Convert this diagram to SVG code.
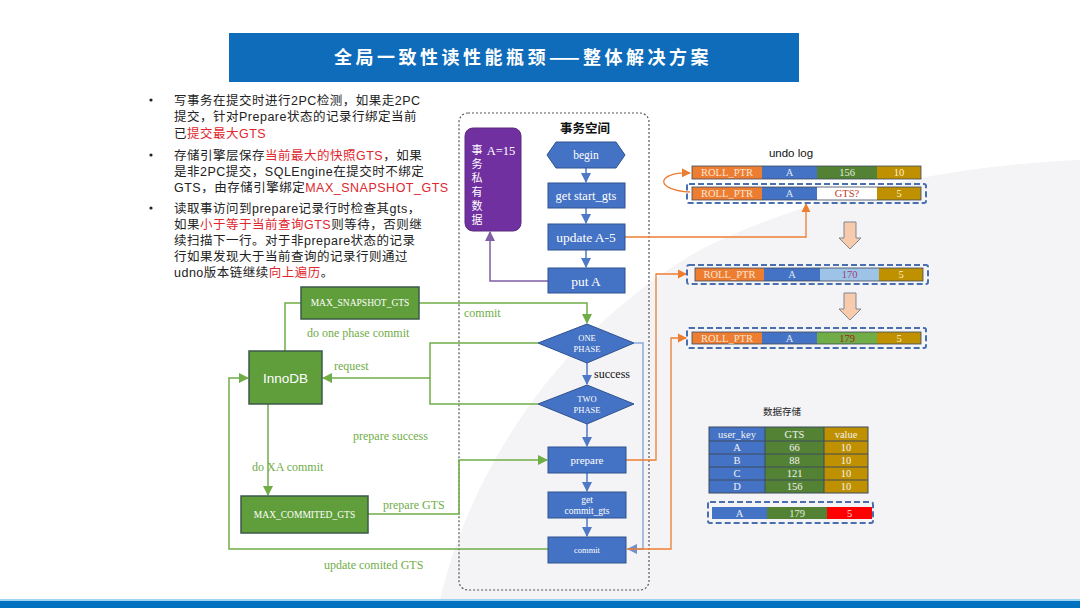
<svg xmlns="http://www.w3.org/2000/svg" width="1080" height="608" viewBox="0 0 1080 608">
<defs>
<style>
.cn{font-family:"Noto Sans CJK SC","Noto Sans",sans-serif}
.bl{font-family:"Liberation Sans","Noto Sans CJK SC",sans-serif;font-size:12.5px;fill:#222;letter-spacing:0.5px}
.red{fill:#e0262e}
.sf{font-family:"Liberation Serif","Noto Sans CJK SC",serif}
.wt{fill:#fff}
.box{fill:#4472c4;stroke:#2f528f;stroke-width:1}
.gbox{fill:#5f9e3b;stroke:#3d5a4a;stroke-width:1.5}
.lb{stroke:#4f79c6;stroke-width:1.5;fill:none}
.lg{stroke:#70ad47;stroke-width:1.5;fill:none}
.lo{stroke:#ed7d31;stroke-width:1.3;fill:none}
.gl{font-family:"Liberation Serif",serif;font-size:12px;fill:#70ad47}
.cell{font-family:"Liberation Serif",serif;font-size:10.5px;text-anchor:middle}
.dash{fill:none;stroke:#4a6fb0;stroke-width:2;stroke-dasharray:6 3}
.tb{stroke:#3c4a5c;stroke-width:1}
</style>
<marker id="ab" viewBox="0 0 10 10" refX="9" refY="5" markerWidth="7" markerHeight="7" orient="auto-start-reverse"><path d="M0,0 L10,5 L0,10 z" fill="#4f79c6"/></marker>
<marker id="ag" viewBox="0 0 10 10" refX="9" refY="5" markerWidth="7" markerHeight="7" orient="auto-start-reverse"><path d="M0,0 L10,5 L0,10 z" fill="#70ad47"/></marker>
<marker id="ao" viewBox="0 0 10 10" refX="9" refY="5" markerWidth="7" markerHeight="7" orient="auto-start-reverse"><path d="M0,0 L10,5 L0,10 z" fill="#ed7d31"/></marker>
<marker id="ap" viewBox="0 0 10 10" refX="9" refY="5" markerWidth="7" markerHeight="7" orient="auto-start-reverse"><path d="M0,0 L10,5 L0,10 z" fill="#7f5fa6"/></marker>
<marker id="al" viewBox="0 0 10 10" refX="9" refY="5" markerWidth="7" markerHeight="7" orient="auto-start-reverse"><path d="M0,0 L10,5 L0,10 z" fill="#6f8fcf"/></marker>
</defs>

<!-- background -->
<rect x="0" y="0" width="1080" height="608" fill="#ffffff"/>
<path d="M440,600 C470,470 560,330 700,250 C820,190 960,165 1080,160 L1080,600 Z" fill="#f4f4f6"/>

<!-- title -->
<g id="title">
<rect x="229" y="33" width="570" height="49" fill="#0f6cba"/>
<text x="523" y="64" class="cn" font-size="18" font-weight="bold" fill="#fff" text-anchor="middle" letter-spacing="3.5">全局一致性读性能瓶颈——整体解决方案</text>
</g>

<!-- bottom stripe -->
<rect x="0" y="599" width="1080" height="2" fill="#9dd3f0"/>
<rect x="0" y="601" width="1080" height="7" fill="#0070c0"/>

<!-- bullets -->
<g id="bullets" class="bl">
<circle cx="151" cy="100" r="1.6" fill="#222"/>
<circle cx="151" cy="155" r="1.6" fill="#222"/>
<circle cx="151" cy="208" r="1.6" fill="#222"/>
<text x="174" y="105">写事务在提交时进行2PC检测，如果走2PC</text>
<text x="174" y="121">提交，针对Prepare状态的记录行绑定当前</text>
<text x="174" y="138">已<tspan class="red">提交最大GTS</tspan></text>
<text x="174" y="160">存储引擎层保存<tspan class="red">当前最大的快照GTS</tspan>，如果</text>
<text x="174" y="176">是非2PC提交，SQLEngine在提交时不绑定</text>
<text x="174" y="192">GTS，由存储引擎绑定<tspan class="red">MAX_SNAPSHOT_GTS</tspan></text>
<text x="174" y="213">读取事访问到prepare记录行时检查其gts，</text>
<text x="174" y="229">如果<tspan class="red">小于等于当前查询GTS</tspan>则等待，否则继</text>
<text x="174" y="245">续扫描下一行。对于非prepare状态的记录</text>
<text x="174" y="261">行如果发现大于当前查询的记录行则通过</text>
<text x="174" y="277">udno版本链继续<tspan class="red">向上遍历</tspan>。</text>
</g>

<!-- container -->
<g id="space">
<rect x="459" y="113" width="190" height="477" rx="9" fill="none" stroke="#555" stroke-width="1.2" stroke-dasharray="2 2"/>
<text x="585" y="133" class="cn" font-size="12.5" font-weight="bold" fill="#111" text-anchor="middle">事务空间</text>
</g>

<!-- connectors -->
<g id="connectors">
<line x1="586" y1="168" x2="586" y2="182" class="lb" marker-end="url(#ab)"/>
<line x1="586" y1="208" x2="586" y2="223" class="lb" marker-end="url(#ab)"/>
<line x1="586" y1="250" x2="586" y2="267" class="lb" marker-end="url(#ab)"/>
<line x1="587" y1="363" x2="587" y2="384" class="lb" marker-end="url(#ab)"/>
<line x1="587" y1="424" x2="587" y2="446" class="lb" marker-end="url(#ab)"/>
<line x1="587" y1="473" x2="587" y2="491" class="lb" marker-end="url(#ab)"/>
<line x1="587" y1="518" x2="587" y2="536" class="lb" marker-end="url(#ab)"/>
<polyline points="634,343 643,343 643,549 628,549" stroke="#8faadc" stroke-width="1.5" fill="none" marker-end="url(#al)"/>
<polyline points="548,281 490,281 490,232" stroke="#7f5fa6" stroke-width="1.5" fill="none" marker-end="url(#ap)"/>
<polyline points="625,237 806,237 806,204" class="lo" marker-end="url(#ao)"/>
<path d="M690,192 C655,190 655,172 690,173" class="lo" marker-end="url(#ao)"/>
<polyline points="626,460 656,460 656,274 686,274" class="lo" marker-end="url(#ao)"/>
<polyline points="627,549 671,549 671,338 686,338" class="lo" marker-end="url(#ao)"/>
<polyline points="419,303 587,303 587,323" class="lg" marker-end="url(#ag)"/>
<polyline points="285,351 285,303 301,303" class="lg"/>
<polyline points="538,343 430,343 430,404 538,404" class="lg"/>
<line x1="430" y1="378" x2="323" y2="378" class="lg" marker-end="url(#ag)"/>
<line x1="268" y1="404" x2="268" y2="495" class="lg" marker-end="url(#ag)"/>
<polyline points="368,514 459,514 459,460 547,460" class="lg" marker-end="url(#ag)"/>
<polyline points="548,549 229,549 229,378 248,378" class="lg" marker-end="url(#ag)"/>
</g>

<!-- labels -->
<g id="labels">
<text x="464" y="317" class="gl">commit</text>
<text x="307" y="337" class="gl">do one phase commit</text>
<text x="334" y="370" class="gl">request</text>
<text x="594" y="378" font-family="Liberation Serif,serif" font-size="12" fill="#111">success</text>
<text x="353" y="440" class="gl">prepare success</text>
<text x="252" y="471" class="gl">do XA commit</text>
<text x="383" y="509" class="gl">prepare GTS</text>
<text x="324" y="569" class="gl">update comited GTS</text>
</g>

<!-- purple private data -->
<g id="private">
<rect x="465" y="128" width="56" height="103" rx="8" fill="#7030a0" stroke="#5a2a80"/>
<g class="cn" font-size="11" fill="#fff" text-anchor="middle">
<text x="477" y="154">事</text><text x="477" y="168">务</text><text x="477" y="182">私</text>
<text x="477" y="196">有</text><text x="477" y="210">数</text><text x="477" y="224">据</text>
</g>
<text x="501" y="155" class="sf" font-size="12.5" fill="#fff" text-anchor="middle">A=15</text>
</g>

<!-- flow nodes -->
<g id="begin">
<polygon points="547,155 556,142 616,142 625,155 616,168 556,168" class="box"/>
<text x="586" y="159" class="sf wt" font-size="11.5" text-anchor="middle">begin</text>
</g>
<g id="getstart">
<rect x="548" y="183" width="77" height="25" class="box"/>
<text x="586" y="200" class="sf wt" font-size="12.5" text-anchor="middle">get start_gts</text>
</g>
<g id="update">
<rect x="548" y="224" width="77" height="26" class="box"/>
<text x="586" y="242" class="sf wt" font-size="13.5" text-anchor="middle">update A-5</text>
</g>
<g id="putA">
<rect x="548" y="268" width="77" height="25" class="box"/>
<text x="586" y="286" class="sf wt" font-size="13.5" text-anchor="middle">put A</text>
</g>
<g id="onephase">
<polygon points="538,343 587,324 634,343 587,363" class="box"/>
<text x="587" y="341" class="sf wt" font-size="8.5" text-anchor="middle">ONE</text>
<text x="587" y="352" class="sf wt" font-size="8.5" text-anchor="middle">PHASE</text>
</g>
<g id="twophase">
<polygon points="538,404 587,385 634,404 587,424" class="box"/>
<text x="587" y="402" class="sf wt" font-size="8.5" text-anchor="middle">TWO</text>
<text x="587" y="413" class="sf wt" font-size="8.5" text-anchor="middle">PHASE</text>
</g>
<g id="prepare">
<rect x="548" y="447" width="78" height="26" class="box"/>
<text x="587" y="464" class="sf wt" font-size="11" text-anchor="middle">prepare</text>
</g>
<g id="getcommit">
<rect x="548" y="492" width="78" height="26" class="box"/>
<text x="587" y="503" class="sf wt" font-size="9.5" text-anchor="middle">get</text>
<text x="587" y="514" class="sf wt" font-size="9.5" text-anchor="middle">commit_gts</text>
</g>
<g id="commit">
<rect x="548" y="537" width="78" height="26" class="box"/>
<text x="587" y="553" class="sf wt" font-size="8.5" text-anchor="middle">commit</text>
</g>

<!-- green nodes -->
<g id="maxsnap">
<rect x="301" y="287" width="118" height="32" class="gbox"/>
<text x="360" y="306" class="sf wt" font-size="9.5" text-anchor="middle">MAX_SNAPSHOT_GTS</text>
</g>
<g id="innodb">
<rect x="249" y="351" width="73" height="53" class="gbox"/>
<text x="285.5" y="383" font-family="Liberation Sans,sans-serif" font-size="13.5" fill="#fff" text-anchor="middle">InnoDB</text>
</g>
<g id="maxcommit">
<rect x="241" y="496" width="127" height="37" class="gbox"/>
<text x="304.5" y="518" class="sf wt" font-size="9.5" text-anchor="middle">MAX_COMMITED_GTS</text>
</g>

<!-- undo log -->
<g id="undolog">
<text x="791" y="157" font-family="Liberation Sans,sans-serif" font-size="11.5" fill="#111" text-anchor="middle">undo log</text>
<g id="row1">
<rect x="692" y="166" width="70" height="13" fill="#ed7d31"/>
<rect x="762" y="166" width="55" height="13" fill="#4472c4"/>
<rect x="817" y="166" width="60" height="13" fill="#548235"/>
<rect x="877" y="166" width="44" height="13" fill="#bf9000"/>
<rect x="692" y="166" width="229" height="13" fill="none" stroke="#3c4a5c" stroke-width="0.8"/>
<text x="727" y="176" class="cell" fill="#fbe5d6">ROLL_PTR</text>
<text x="789.5" y="176" class="cell" fill="#dbe6f5">A</text>
<text x="847" y="176" class="cell" fill="#e2efda">156</text>
<text x="899" y="176" class="cell" fill="#fff2cc">10</text>
</g>
<g id="row2">
<rect x="687" y="184" width="239" height="19" rx="2" class="dash"/>
<rect x="692" y="187" width="70" height="13" fill="#ed7d31"/>
<rect x="762" y="187" width="55" height="13" fill="#4472c4"/>
<rect x="817" y="187" width="60" height="13" fill="#ffffff"/>
<rect x="877" y="187" width="44" height="13" fill="#bf9000"/>
<rect x="692" y="187" width="229" height="13" fill="none" stroke="#3c4a5c" stroke-width="0.8"/>
<text x="727" y="197" class="cell" fill="#fbe5d6">ROLL_PTR</text>
<text x="789.5" y="197" class="cell" fill="#dbe6f5">A</text>
<text x="847" y="197" class="cell" fill="#c0392b">GTS?</text>
<text x="899" y="197" class="cell" fill="#fff2cc">5</text>
</g>
<g id="arrow1">
<path d="M844,222 L856,222 L856,238 L861,238 L850,249 L839,238 L844,238 Z" fill="#f8cbad" stroke="#7f8790" stroke-width="1"/>
</g>
<g id="row3">
<rect x="687" y="265" width="241" height="19" rx="2" class="dash"/>
<rect x="695" y="268" width="69" height="13" fill="#ed7d31"/>
<rect x="764" y="268" width="56" height="13" fill="#4472c4"/>
<rect x="820" y="268" width="59" height="13" fill="#9dc3e6"/>
<rect x="879" y="268" width="44" height="13" fill="#bf9000"/>
<rect x="695" y="268" width="228" height="13" fill="none" stroke="#3c4a5c" stroke-width="0.8"/>
<text x="729.5" y="278" class="cell" fill="#fbe5d6">ROLL_PTR</text>
<text x="792" y="278" class="cell" fill="#dbe6f5">A</text>
<text x="849.5" y="278" class="cell" fill="#a0407a">170</text>
<text x="901" y="278" class="cell" fill="#fff2cc">5</text>
</g>
<g id="arrow2">
<path d="M844,293 L856,293 L856,309 L861,309 L850,320 L839,309 L844,309 Z" fill="#f8cbad" stroke="#7f8790" stroke-width="1"/>
</g>
<g id="row4">
<rect x="687" y="328" width="239" height="20" rx="2" class="dash"/>
<rect x="692" y="332" width="70" height="12" fill="#ed7d31"/>
<rect x="762" y="332" width="55" height="12" fill="#4472c4"/>
<rect x="817" y="332" width="60" height="12" fill="#70ad47"/>
<rect x="877" y="332" width="44" height="12" fill="#bf9000"/>
<rect x="692" y="332" width="229" height="12" fill="none" stroke="#3c4a5c" stroke-width="0.8"/>
<text x="727" y="342" class="cell" fill="#fbe5d6">ROLL_PTR</text>
<text x="789.5" y="342" class="cell" fill="#dbe6f5">A</text>
<text x="847" y="342" class="cell" fill="#a02020">179</text>
<text x="899" y="342" class="cell" fill="#fff2cc">5</text>
</g>
</g>

<!-- data storage -->
<g id="storage">
<text x="782" y="415" class="cn" font-size="9.5" fill="#222" text-anchor="middle">数据存储</text>
<rect x="709" y="427" width="56" height="66" fill="#4472c4"/>
<rect x="765" y="427" width="59" height="66" fill="#548235"/>
<rect x="824" y="427" width="44" height="66" fill="#bf9000"/>
<rect x="709" y="427" width="159" height="66" fill="none" class="tb"/>
<line x1="765" y1="427" x2="765" y2="493" class="tb"/>
<line x1="824" y1="427" x2="824" y2="493" class="tb"/>
<line x1="709" y1="441" x2="868" y2="441" class="tb"/>
<line x1="709" y1="454" x2="868" y2="454" class="tb"/>
<line x1="709" y1="467" x2="868" y2="467" class="tb"/>
<line x1="709" y1="480" x2="868" y2="480" class="tb"/>
<g class="cell" fill="#f2f2f2">
<text x="737" y="438">user_key</text><text x="794.5" y="438">GTS</text><text x="846" y="438">value</text>
<text x="737" y="451">A</text><text x="794.5" y="451">66</text><text x="846" y="451">10</text>
<text x="737" y="464">B</text><text x="794.5" y="464">88</text><text x="846" y="464">10</text>
<text x="737" y="477">C</text><text x="794.5" y="477">121</text><text x="846" y="477">10</text>
<text x="737" y="490">D</text><text x="794.5" y="490">156</text><text x="846" y="490">10</text>
</g>
<rect x="708" y="502" width="165" height="21" rx="2" class="dash"/>
<rect x="712" y="507" width="55" height="12" fill="#4472c4"/>
<rect x="767" y="507" width="60" height="12" fill="#548235"/>
<rect x="827" y="507" width="45" height="12" fill="#ff0000"/>
<text x="739.5" y="517" class="cell" fill="#e8eef8">A</text>
<text x="797" y="517" class="cell" fill="#e2efda">179</text>
<text x="849.5" y="517" class="cell" fill="#fde0e0">5</text>
</g>
</svg>
